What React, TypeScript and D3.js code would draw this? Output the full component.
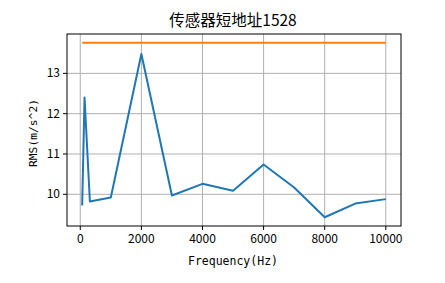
import React from "react";
import * as d3 from "d3";

const freqs = [63, 140, 315, 1000, 2000, 3000, 4000, 5000, 6000, 7000, 8000, 9000, 10000];
const rmsValues = [9.72, 12.4, 9.82, 9.92, 13.48, 9.97, 10.26, 10.09, 10.74, 10.17, 9.43, 9.77, 9.88];
const thresholdValue = 13.76;
const xTicks = [0, 2000, 4000, 6000, 8000, 10000];
const yTicks = [10, 11, 12, 13];
const title = "传感器短地址1528";
const xLabel = "Frequency(Hz)";
const yLabel = "RMS(m/s^2)";

const W = 445, H = 283;
const L = 67, R = 401, T = 34, B = 226;

export default function App() {
  const xmin = d3.min(freqs)!, xmax = d3.max(freqs)!;
  const xpad = (xmax - xmin) * 0.05;
  const ymin = Math.min(d3.min(rmsValues)!, thresholdValue);
  const ymax = Math.max(d3.max(rmsValues)!, thresholdValue);
  const ypad = (ymax - ymin) * 0.05;
  const x = d3.scaleLinear().domain([xmin - xpad, xmax + xpad]).range([L, R]);
  const y = d3.scaleLinear().domain([ymin - ypad, ymax + ypad]).range([B, T]);
  const line = d3.line<number>().x((_, i) => x(freqs[i])).y((d) => y(d));
  const thr = freqs.map(() => thresholdValue);
  const font = "'Noto Sans CJK SC', 'DejaVu Sans', sans-serif";
  const mono = "'DejaVu Sans Mono', 'Liberation Mono', monospace";
  return (
    <svg width={W} height={H} style={{ position: "absolute", left: 0, top: 0, background: "#fff" }}>
      <rect x={0} y={0} width={W} height={H} fill="#fff" />
      {xTicks.map((t) => (
        <line key={"gx" + t} x1={x(t)} x2={x(t)} y1={T} y2={B} stroke="#b0b0b0" strokeWidth={1} />
      ))}
      {yTicks.map((t) => (
        <line key={"gy" + t} x1={L} x2={R} y1={y(t)} y2={y(t)} stroke="#b0b0b0" strokeWidth={1} />
      ))}
      <path d={line(rmsValues)!} fill="none" stroke="#1f77b4" strokeWidth={2} strokeLinejoin="round" />
      <path d={line(thr)!} fill="none" stroke="#ff7f0e" strokeWidth={2} />
      <rect x={L} y={T} width={R - L} height={B - T} fill="none" stroke="#000" strokeWidth={1} />
      {xTicks.map((t) => (
        <g key={"tx" + t}>
          <line x1={x(t)} x2={x(t)} y1={B} y2={B + 4} stroke="#000" />
          <text x={x(t)} y={B + 17} textAnchor="middle" fontFamily={font} fontSize={12}>{t}</text>
        </g>
      ))}
      {yTicks.map((t) => (
        <g key={"ty" + t}>
          <line x1={L - 4} x2={L} y1={y(t)} y2={y(t)} stroke="#000" />
          <text x={L - 7} y={y(t) + 4} textAnchor="end" fontFamily={font} fontSize={12}>{t}</text>
        </g>
      ))}
      <text x={(L + R) / 2 - 1} y={26} textAnchor="middle" fontFamily={font} fontSize={15.5}>{title}</text>
      <text x={(L + R) / 2 - 1} y={265} textAnchor="middle" fontFamily={mono} fontSize={11.5}>{xLabel}</text>
      <text transform={`translate(37,${(T + B) / 2 + 3}) rotate(-90)`} textAnchor="middle" fontFamily={mono} fontSize={11.3}>{yLabel}</text>
    </svg>
  );
}
